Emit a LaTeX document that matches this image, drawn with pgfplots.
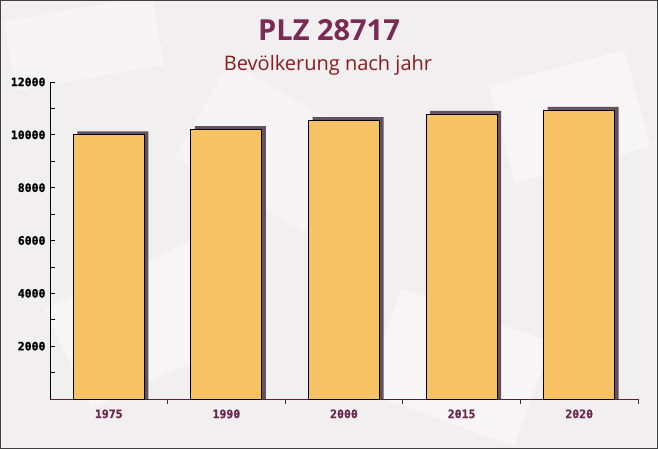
\documentclass[border=0pt]{standalone}
\usepackage{fontspec}
\usepackage{pgfplots}
\usepackage{pgfplotstable}
\pgfplotsset{compat=1.18}
\setmainfont{Open Sans}
\newfontfamily\monob{DejaVu Sans Mono}[BoldFeatures={FakeBold=1.2}]
\definecolor{bgc}{RGB}{242,239,241}
\definecolor{titlec}{RGB}{123,42,84}
\definecolor{subc}{RGB}{139,28,28}
\definecolor{xlabc}{RGB}{107,40,78}
\definecolor{barc}{RGB}{247,194,100}
\definecolor{shadc}{RGB}{98,82,94}
\pgfplotstableread{
x pop
0 10020
1 10220
2 10560
3 10790
4 10940
}\datatable
\begin{document}
\begin{tikzpicture}[x=1pt,y=1pt]
\useasboundingbox (0,0) rectangle (658,449);
\fill[bgc] (0,0) rectangle (658,449);
\fill[white,opacity=0.4,rotate around={25:(120,120)}] (60,60) rectangle (220,170);
\fill[white,opacity=0.4,rotate around={-20:(450,90)}] (380,30) rectangle (540,140);
\fill[white,opacity=0.4,rotate around={15:(560,330)}] (500,280) rectangle (640,380);
\fill[white,opacity=0.35,rotate around={-30:(260,300)}] (190,250) rectangle (340,360);
\fill[white,opacity=0.35,rotate around={10:(80,400)}] (10,370) rectangle (160,440);
\draw[black!75,line width=1pt] (0.5,0.5) rectangle (657.5,448.5);
\node[font=\fontsize{29}{32}\selectfont\bfseries,text=titlec,anchor=base] at (329,408) {PLZ 28717};
\node[font=\fontsize{20}{22}\selectfont,text=subc,anchor=base] at (328,378) {Bevölkerung nach jahr};
\begin{axis}[
  at={(50pt,50pt)}, anchor=south west,
  scale only axis, width=588pt, height=317pt,
  xmin=-0.5, xmax=4.5, ymin=0, ymax=12000,
  axis x line*=bottom, axis y line*=left,
  x axis line style={xlabc!80!black, line width=0.8pt},
  y axis line style={black, line width=0.8pt},
  xtick={0,1,2,3,4},
  xticklabels={1975,1990,2000,2015,2020},
  minor xtick={0.5,1.5,2.5,3.5,4.5},
  major x tick style={draw=none},
  minor x tick style={xlabc!80!black, line width=0.8pt},
  ytick={2000,4000,6000,8000,10000,12000},
  minor ytick={1000,3000,5000,7000,9000,11000},
  y tick style={black, line width=0.8pt},
  tick align=inside,
  major tick length=5pt, minor tick length=5pt,
  scaled y ticks=false,
  /pgf/number format/fixed,
  /pgf/number format/set thousands separator={},
  /pgf/number format/assume math mode=true,
  xticklabel style={font=\monob\bfseries\fontsize{11.5}{12}\selectfont, text=xlabc, yshift=-2pt},
  yticklabel style={font=\monob\bfseries\fontsize{11.5}{12}\selectfont, text=black, xshift=-1pt},
  ybar, bar width=71pt,
  clip=false,
]
\addplot[fill=shadc, draw=none, bar shift=4pt] table[x=x, y expr=\thisrow{pop}+114] {\datatable};
\addplot[fill=barc, draw=black, line width=0.9pt, bar shift=0pt] table[x=x,y=pop] {\datatable};
\end{axis}
\end{tikzpicture}
\end{document}
